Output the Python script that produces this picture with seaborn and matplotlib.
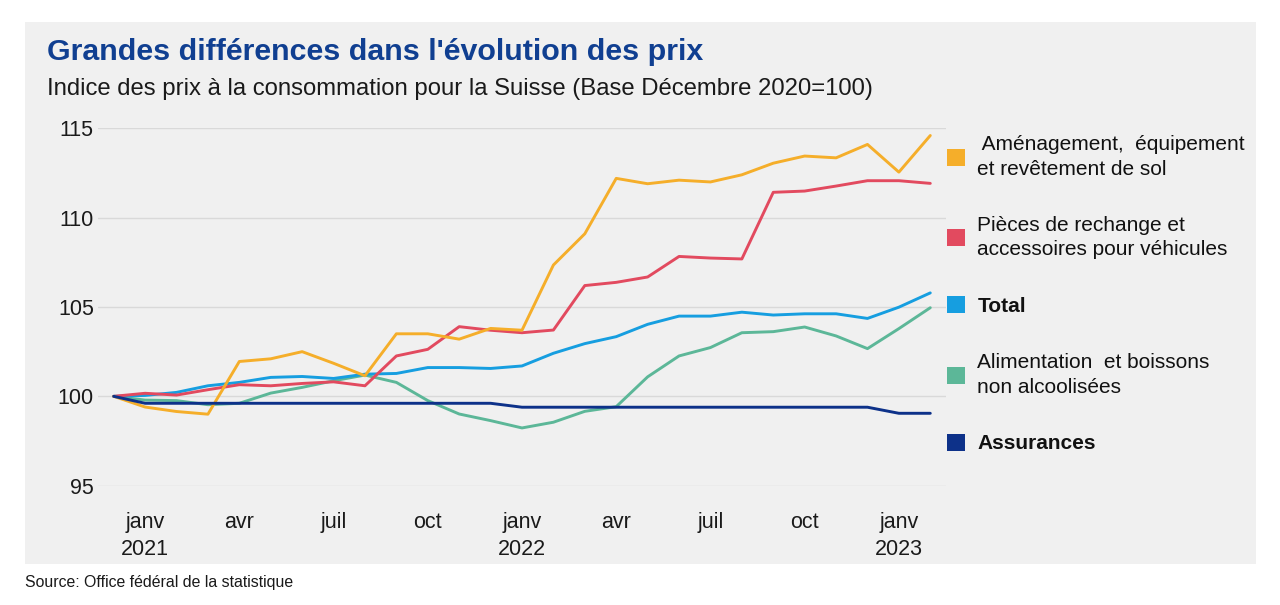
import pandas as pd
import matplotlib.pyplot as plt
import seaborn as sns
from matplotlib.patches import Patch, Rectangle

# Series values (index, Dec 2020 = 100), Dec 2020 .. Feb 2023
months = pd.period_range("2020-12", "2023-02", freq="M")
amenagement = [100.0, 99.4, 99.15, 99.0, 101.95, 102.1, 102.5, 101.85, 101.15, 103.5, 103.5, 103.2, 103.8,
               103.7, 107.35, 109.1, 112.2, 111.9, 112.1, 112.0, 112.4, 113.05, 113.45, 113.35, 114.1,
               112.55, 114.6]
pieces = [100.0, 100.17, 100.07, 100.37, 100.65, 100.59, 100.72, 100.81, 100.59, 102.26, 102.63, 103.9, 103.7,
          103.56, 103.71, 106.2, 106.38, 106.68, 107.83, 107.74, 107.69, 111.42, 111.49, 111.77, 112.07,
          112.07, 111.92]
total = [100.0, 100.05, 100.22, 100.59, 100.78, 101.06, 101.11, 101.0, 101.24, 101.28, 101.61, 101.61, 101.56,
         101.7, 102.41, 102.95, 103.34, 104.03, 104.49, 104.49, 104.71, 104.55, 104.62, 104.62, 104.36,
         104.99, 105.79]
alimentation = [100.0, 99.79, 99.76, 99.53, 99.61, 100.18, 100.5, 100.87, 101.19, 100.78, 99.76, 99.01, 98.64,
                98.23, 98.55, 99.16, 99.42, 101.09, 102.26, 102.73, 103.56, 103.62, 103.88, 103.38, 102.67,
                103.79, 104.96]
assurances = [100.0, 99.61, 99.61, 99.61, 99.61, 99.61, 99.61, 99.61, 99.61, 99.61, 99.61, 99.61, 99.61,
              99.39, 99.39, 99.39, 99.39, 99.39, 99.39, 99.39, 99.39, 99.39, 99.39, 99.39, 99.39,
              99.05, 99.05]

series_names = ["Aménagement", "Pièces", "Total", "Alimentation", "Assurances"]
legend_labels = [" Aménagement,  équipement\net revêtement de sol",
                 "Pièces de rechange et\naccessoires pour véhicules",
                 "Total",
                 "Alimentation  et boissons\nnon alcoolisées",
                 "Assurances"]
bold_labels = ["Total", "Assurances"]
colors = ["#f5ae2a", "#e24a5f", "#169ee0", "#5cb798", "#0d3189"]

tick_pos = [1, 4, 7, 10, 13, 16, 19, 22, 25]
tick_labels = ["janv\n2021", "avr", "juil", "oct", "janv\n2022", "avr", "juil", "oct", "janv\n2023"]

df = pd.DataFrame({
    "idx": list(range(len(months))) * 5,
    "value": amenagement + pieces + total + alimentation + assurances,
    "serie": sum([[n] * len(months) for n in series_names], []),
})

sns.set_style("white")
plt.rcParams['font.family'] = ['Liberation Sans', 'DejaVu Sans']

BG = "#f0f0f0"
fig = plt.figure(figsize=(12.8, 6.05), dpi=100)
fig.patch.set_facecolor("white")
fig.patches.append(Rectangle((25 / 1280, 1 - 564 / 605), 1231 / 1280, 542 / 605,
                             transform=fig.transFigure, facecolor=BG, edgecolor="none", zorder=-10))

ax = fig.add_axes([98 / 1280, 1 - 486 / 605, 848 / 1280, 358 / 605])
ax.set_facecolor("none")
ax.set_zorder(5)

draw_order = ["Alimentation", "Total", "Pièces", "Aménagement", "Assurances"]
sns.lineplot(data=df, x="idx", y="value", hue="serie", hue_order=draw_order,
             palette=dict(zip(series_names, colors)), linewidth=2.1, ax=ax, legend=False)

ax.set_xlim(-0.5, 26.5)
ax.set_ylim(94.98, 115.02)
ax.set_yticks([95, 100, 105, 110, 115])
ax.set_xticks(tick_pos)
ax.set_xticklabels(tick_labels, linespacing=1.35)
ax.set_xticks([i + 0.5 for i in range(-1, 27)], minor=True)
ax.tick_params(axis="x", which="major", length=0, pad=19, labelsize=15.5, labelcolor="#1a1a1a")
ax.tick_params(axis="x", which="minor", length=8, width=1, color="#d6d6d6", direction="out")
ax.tick_params(axis="y", length=0, pad=3, labelsize=15.5, labelcolor="#1a1a1a")
ax.set_xlabel("")
ax.set_ylabel("")
for s in ax.spines.values():
    s.set_visible(False)
ax.yaxis.grid(True, color="#d9d9d9", linewidth=1)
ax.xaxis.grid(False)

handles = [Patch(facecolor=c, edgecolor="none") for c in colors]
leg = ax.legend(handles, legend_labels, loc="upper left", bbox_to_anchor=(947 / 1280, 1 - 135 / 605),
                bbox_transform=fig.transFigure, frameon=False, fontsize=15, borderpad=0, borderaxespad=0,
                handlelength=0.88, handleheight=0.88, handletextpad=0.58, labelspacing=1.78)
for t in leg.get_texts():
    t.set_color("#111111")
    t.set_linespacing(1.37)
    if t.get_text() in bold_labels:
        t.set_fontweight("bold")

fig.text(47 / 1280, 1 - 52 / 605, "Grandes différences dans l'évolution des prix", fontsize=21.9,
         fontweight="bold", color="#103f91", va="center", ha="left")
fig.text(47 / 1280, 1 - 89 / 605, "Indice des prix à la consommation pour la Suisse (Base Décembre 2020=100)",
         fontsize=17.2, color="#1a1a1a", va="center", ha="left")
fig.text(25 / 1280, 1 - 582 / 605, "Source: Office fédéral de la statistique", fontsize=11.4,
         color="#1a1a1a", va="center", ha="left")

fig.savefig("out.png", dpi=100, facecolor="white")
